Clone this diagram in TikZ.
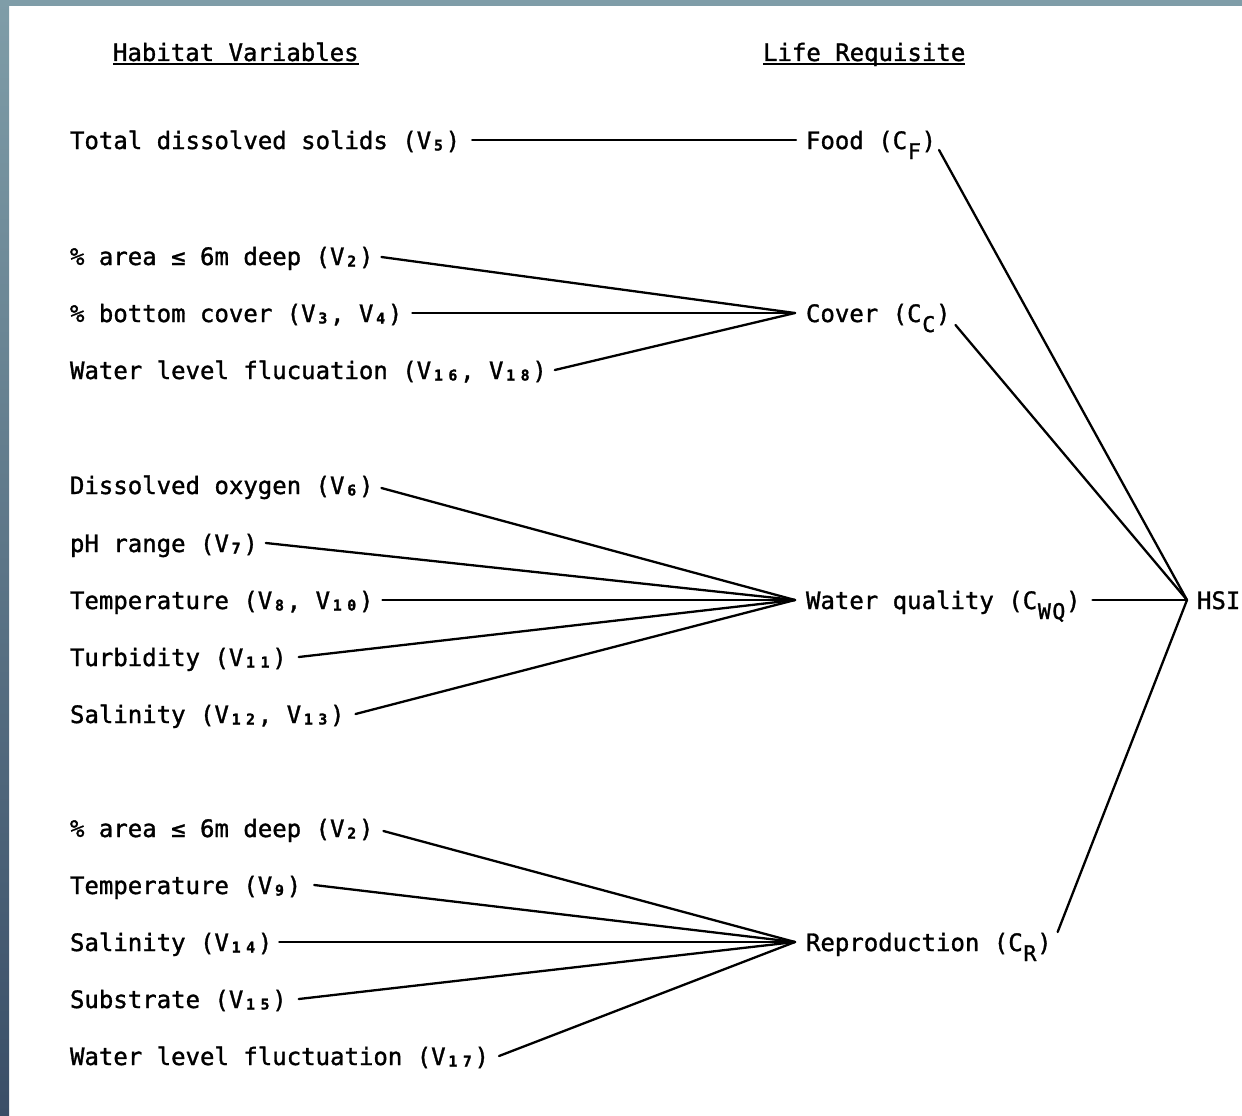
\documentclass[tikz,border=0pt]{standalone}
\usepackage{fontspec}
\usepackage{graphicx}
\newfontfamily\tw[FakeBold=1.3]{DejaVu Sans Mono}
\newcommand\sd[1]{\makebox[0.602em][c]{\raisebox{-1.5pt}{\scalebox{0.62}{\bfseries #1}}}}
\newcommand\rs[1]{\makebox[0.602em][c]{\raisebox{-10pt}{\scalebox{0.9}{#1}}}}
\definecolor{bandtop}{HTML}{7F9DA8}
\definecolor{bandbot}{HTML}{3A4E67}
\begin{document}
\begin{tikzpicture}[x=1pt,y=-1pt,
  lab/.style={anchor=west, inner sep=0pt, outer sep=0pt, text height=18pt, text depth=0pt,
              font=\tw\fontsize{24}{28}\selectfont},
  conn/.style={line width=2.3pt, line cap=round},
  uline/.style={line width=1.8pt}]
\useasboundingbox (0,0) rectangle (1242,1116);
\fill[white] (0,0) rectangle (1242,1116);
\shade[top color=bandtop, bottom color=bandbot] (0,0) rectangle (9,1116);
\fill[bandtop] (0,0) rectangle (1242,6);

% headers
\node[lab] (h1) at (113,52) {Habitat Variables};
\node[lab] (h2) at (763,52) {Life Requisite};
\draw[uline] ([yshift=-12pt]h1.west) -- ([yshift=-12pt]h1.east);
\draw[uline] ([yshift=-12pt]h2.west) -- ([yshift=-12pt]h2.east);

% habitat variables
\node[lab] (v5)   at (70,140) {Total dissolved solids (V\sd5)};
\node[lab] (a2)   at (70,256) {\% area ≤ 6m deep (V\sd2)};
\node[lab] (bc)   at (70,313) {\% bottom cover (V\sd3, V\sd4)};
\node[lab] (wl)   at (70,370) {Water level flucuation (V\sd1\sd6, V\sd1\sd8)};
\node[lab] (dox)  at (70,485) {Dissolved oxygen (V\sd6)};
\node[lab] (ph)   at (70,543) {pH range (V\sd7)};
\node[lab] (tmp)  at (70,600) {Temperature (V\sd8, V\sd1\sd0)};
\node[lab] (tur)  at (70,657) {Turbidity (V\sd1\sd1)};
\node[lab] (sal)  at (70,714) {Salinity (V\sd1\sd2, V\sd1\sd3)};
\node[lab] (a2b)  at (70,828) {\% area ≤ 6m deep (V\sd2)};
\node[lab] (tnine) at (70,885) {Temperature (V\sd9)};
\node[lab] (sfour) at (70,942) {Salinity (V\sd1\sd4)};
\node[lab] (sub)  at (70,999) {Substrate (V\sd1\sd5)};
\node[lab] (wlb)  at (70,1056) {Water level fluctuation (V\sd1\sd7)};

% life requisites
\node[lab] (food)  at (806,140) {Food (C\rs{F})};
\node[lab] (cover) at (806,313) {Cover (C\rs{C})};
\node[lab] (wq)    at (806,600) {Water quality (C\rs{W}\rs{Q})};
\node[lab] (rep)   at (806,942) {Reproduction (C\rs{R})};
\node[lab] (hsi)   at (1197,600) {HSI};

% junctions
\coordinate (jC) at (795,313);
\coordinate (jW) at (795,600);
\coordinate (jR) at (795,942);
\coordinate (jH) at (1187,600);

% connectors
\draw[conn] ([xshift=12pt]v5.east) -- ([xshift=-10pt]food.west);

\draw[conn] ([xshift=8pt,yshift=-1pt]a2.east) -- (jC);
\draw[conn] ([xshift=10pt]bc.east) -- (jC);
\draw[conn] ([xshift=8pt]wl.east) -- (jC);

\draw[conn] ([xshift=8pt,yshift=-3pt]dox.east) -- (jW);
\draw[conn] ([xshift=8pt]ph.east) -- (jW);
\draw[conn] ([xshift=9pt]tmp.east) -- (jW);
\draw[conn] ([xshift=12pt]tur.east) -- (jW);
\draw[conn] ([xshift=11pt]sal.east) -- (jW);

\draw[conn] ([xshift=10pt,yshift=-3pt]a2b.east) -- (jR);
\draw[conn] ([xshift=13pt]tnine.east) -- (jR);
\draw[conn] ([xshift=7pt]sfour.east) -- (jR);
\draw[conn] ([xshift=12pt]sub.east) -- (jR);
\draw[conn] ([xshift=10pt]wlb.east) -- (jR);

\draw[conn] ([xshift=3pt,yshift=-10pt]food.east) -- (jH);
\draw[conn] ([xshift=5pt,yshift=-12pt]cover.east) -- (jH);
\draw[conn] ([xshift=12pt]wq.east) -- (jH);
\draw[conn] ([xshift=6pt,yshift=10pt]rep.east) -- (jH);
\end{tikzpicture}
\end{document}
